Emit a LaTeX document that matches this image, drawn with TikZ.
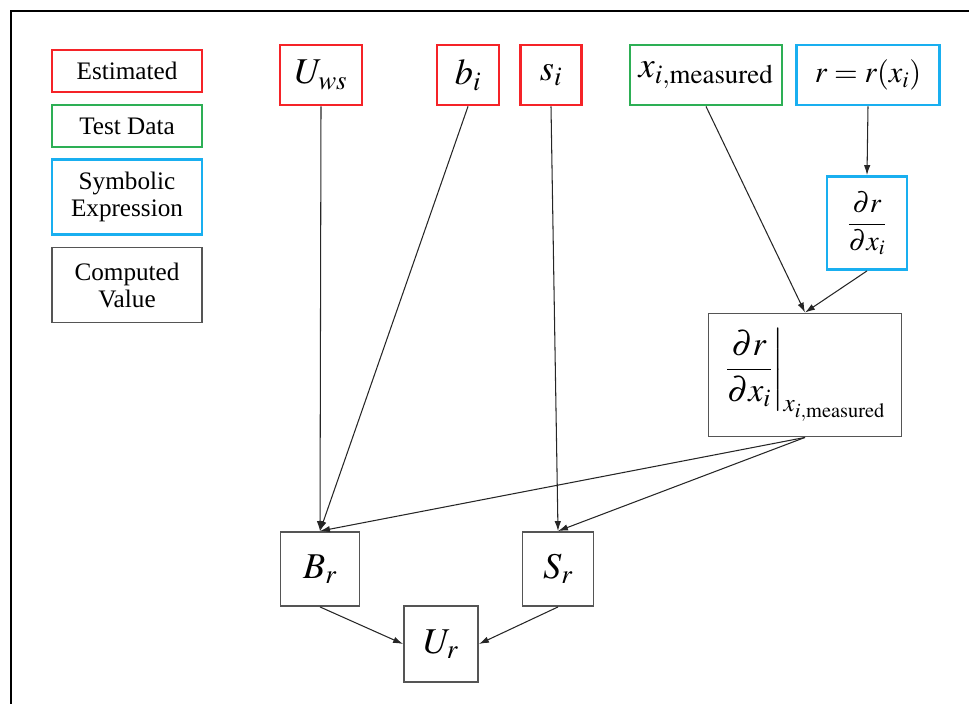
\documentclass[tikz,border=0pt]{standalone}
\usepackage{amsmath}
\usepackage{mathptmx}
\usepackage[no-math]{fontspec}
\setmainfont{Liberation Serif}
\usepackage{tikz}
\usetikzlibrary{arrows.meta}
\usetikzlibrary{positioning}
\definecolor{estred}{RGB}{245,35,40}
\definecolor{testgreen}{RGB}{45,175,85}
\definecolor{symblue}{RGB}{25,175,240}
\definecolor{compgray}{RGB}{85,85,85}
\tikzset{box/.style = {draw, rectangle, inner sep = 0, align = center,
                       font = \fontsize{21.5}{24}\selectfont}}
\tikzset{est/.style = {box, draw = estred, line width = 2.4pt}}
\tikzset{tst/.style = {box, draw = testgreen, line width = 2.4pt}}
\tikzset{sym/.style = {box, draw = symblue, line width = 2.4pt}}
\tikzset{cmp/.style = {box, draw = compgray, line width = 1.6pt}}
\tikzset{bigmath/.style = {font = \fontsize{31}{36}\selectfont}}
\tikzset{flow/.style = {-{Latex[length = 8.5pt, width = 5.5pt]}, line width = 0.9pt, draw = black!85}}

\begin{document}
\begin{tikzpicture}[x = 0.03cm, y = -0.03cm]
      \useasboundingbox (0, 0) rectangle (969, 704);
      \draw [line width = 2.5pt] (11, 704) -- (11, 11) -- (969, 11);

      % legend
      \node [est, minimum width = 4.5cm, minimum height = 1.26cm] (legest) at (127, 71) {Estimated};
      \node [tst, minimum width = 4.5cm, minimum height = 1.26cm] (legtst) at (127, 126) {Test Data};
      \node [sym, minimum width = 4.5cm, minimum height = 2.25cm] (legsym) at (127, 197) {Symbolic\\[-1pt]Expression};
      \node [cmp, minimum width = 4.5cm, minimum height = 2.25cm] (legcmp) at (127, 285) {Computed\\[-1pt]Value};

      % inputs
      \node [est, bigmath, minimum width = 2.46cm, minimum height = 1.8cm] (uws) at (321, 75) {$U_{ws}$};
      \node [est, bigmath, minimum width = 1.86cm, minimum height = 1.8cm] (bi) at (468, 75) {$b_i$};
      \node [est, bigmath, minimum width = 1.83cm, minimum height = 1.8cm] (si) at (551, 75) {$s_i$};
      \node [tst, bigmath, minimum width = 4.56cm, minimum height = 1.8cm] (xm) at (706, 75) {$x_{i,\mathrm{measured}}$};
      \node [sym, minimum width = 4.29cm, minimum height = 1.8cm, font = \fontsize{26}{30}\selectfont] (rx) at (868, 75) {$r = r(x_i)$};

      % derivatives
      \node [sym, minimum width = 2.4cm, minimum height = 2.79cm, font = \fontsize{24}{28}\selectfont] (dr) at (867, 223) {$\dfrac{\partial r}{\partial x_i}$};
      \node [cmp, minimum width = 5.79cm, minimum height = 3.69cm, font = \fontsize{29}{34}\selectfont] (ev) at (805, 375)
            {$\left.\dfrac{\partial r}{\partial x_i}\right|_{x_{i,\mathrm{measured}}}$};

      % results
      \node [cmp, bigmath, minimum width = 2.37cm, minimum height = 2.22cm] (br) at (320, 569) {$B_r$};
      \node [cmp, bigmath, minimum width = 2.13cm, minimum height = 2.22cm] (sr) at (558, 569) {$S_r$};
      \node [cmp, bigmath, minimum width = 2.22cm, minimum height = 2.28cm] (ur) at (441, 644) {$U_r$};

      \draw [flow] (uws.south) -- (br.north);
      \draw [flow] (bi.south) -- (br.north);
      \draw [flow] (si.south) -- (sr.north);
      \draw [flow] (xm.south) -- (ev.north);
      \draw [flow] (rx.south) -- (dr.north);
      \draw [flow] (dr.south) -- (ev.north);
      \draw [flow] (ev.south) -- (br.north);
      \draw [flow] (ev.south) -- (sr.north);
      \draw [flow] (br.south) -- (ur.west);
      \draw [flow] (sr.south) -- (ur.east);
\end{tikzpicture}
\end{document}
